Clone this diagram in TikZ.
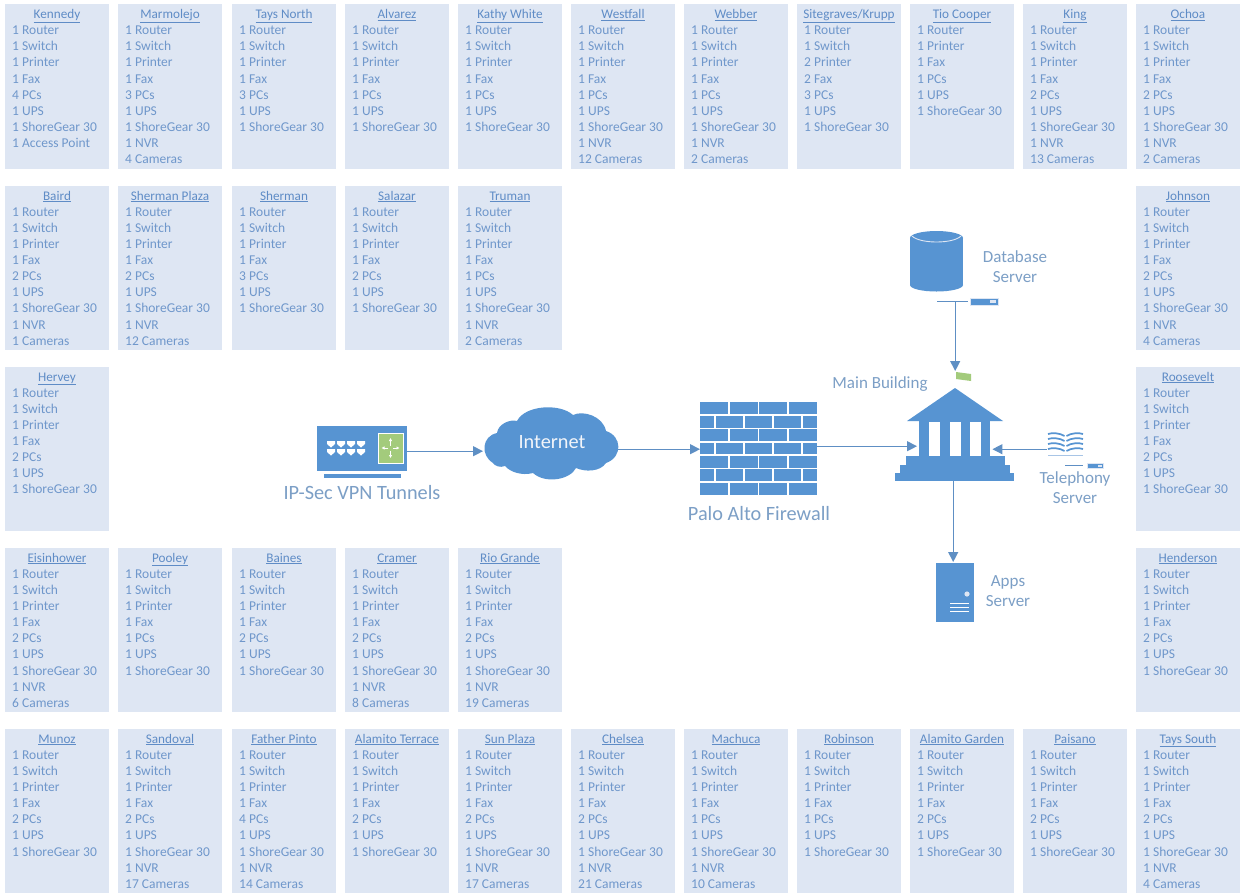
\documentclass[tikz,border=0pt]{standalone}
\usepackage{fontspec}
\setmainfont{Carlito}
\usetikzlibrary{arrows.meta,calc}
\definecolor{boxfill}{HTML}{DEE6F3}
\definecolor{sitetext}{HTML}{6F97CB}
\definecolor{titletext}{HTML}{5F8CC6}
\definecolor{iconblue}{HTML}{5794D2}
\definecolor{labelblue}{HTML}{7C9FC6}
\definecolor{linkblue}{HTML}{5E8FC4}
\definecolor{leaf}{HTML}{A3CB7C}
\tikzset{
  sitebox/.style={fill=boxfill,draw=none,anchor=north west,minimum width=104pt,minimum height=164.5pt,inner sep=0pt},
  sitetitle/.style={text=titletext,inner sep=0pt,anchor=base,font=\fontsize{13.2}{16}\selectfont},
  sitelines/.style={text=sitetext,anchor=north west,inner sep=0pt,align=left,font=\fontsize{13.5}{16.15}\selectfont},
  iconanchor/.style={draw=none,fill=none,inner sep=0pt,anchor=north west},
  biglabel/.style={text=labelblue,inner sep=0pt,align=center,font=\fontsize{20.3}{22}\selectfont},
  midlabel/.style={text=labelblue,inner sep=0pt,align=center,font=\fontsize{17}{20}\selectfont},
  link/.style={draw=linkblue,line width=1.2pt,-{Triangle[length=10pt,width=10pt,fill=linkblue]}},
  plainline/.style={draw=linkblue,line width=1pt},
  icon/.style={fill=iconblue,draw=none},
  whitebar/.style={draw=white,line width=1.8pt},
  bookline/.style={draw=iconblue,line width=1.7pt}
}
\newcommand\stdlines[1]{1 Router\\1 Switch\\1 Printer\\1 Fax\\#1\\1 UPS\\1 ShoreGear 30}
\newcommand\camlines[2]{\stdlines{#1}\\1 NVR\\#2 Cameras}
% id, left, top, title, lines
\newcommand\site[5]{%
  \node[sitebox] (#1) at (#2,#3) {};
  \node[sitetitle] (#1T) at ($(#2,#3)+(52,14.5)$) {\underline{#4}};
  \node[sitelines] (#1L) at ($(#2,#3)+(7,21.7)$) {#5};
}
\begin{document}
\begin{tikzpicture}[x=1pt,y=-1pt]
\useasboundingbox (0,0) rectangle (1244,892);
\fill[white] (0,0) rectangle (1244,892);
% row 1
\site{a1}{5}{4}{Kennedy}{\stdlines{4 PCs}\\1 Access Point}
\site{a2}{118}{4}{Marmolejo}{\camlines{3 PCs}{4}}
\site{a3}{232}{4}{Tays North}{\stdlines{3 PCs}}
\site{a4}{345}{4}{Alvarez}{\stdlines{1 PCs}}
\site{a5}{458}{4}{Kathy White}{\stdlines{1 PCs}}
\site{a6}{571}{4}{Westfall}{\camlines{1 PCs}{12}}
\site{a7}{684}{4}{Webber}{\camlines{1 PCs}{2}}
\site{a8}{797}{4}{Sitegraves/Krupp}{1 Router\\1 Switch\\2 Printer\\2 Fax\\3 PCs\\1 UPS\\1 ShoreGear 30}
\site{a9}{910}{4}{Tio Cooper}{1 Router\\1 Printer\\1 Fax\\1 PCs\\1 UPS\\1 ShoreGear 30}
\site{a10}{1023}{4}{King}{\camlines{2 PCs}{13}}
\site{a11}{1136}{4}{Ochoa}{\camlines{2 PCs}{2}}
% row 2
\site{b1}{5}{185.5}{Baird}{\camlines{2 PCs}{1}}
\site{b2}{118}{185.5}{Sherman Plaza}{\camlines{2 PCs}{12}}
\site{b3}{232}{185.5}{Sherman}{\stdlines{3 PCs}}
\site{b4}{345}{185.5}{Salazar}{\stdlines{2 PCs}}
\site{b5}{458}{185.5}{Truman}{\camlines{1 PCs}{2}}
\site{b11}{1136}{185.5}{Johnson}{\camlines{2 PCs}{4}}
% row 3
\site{c1}{5}{366.5}{Hervey}{\stdlines{2 PCs}}
\site{c11}{1136}{366.5}{Roosevelt}{\stdlines{2 PCs}}
% row 4
\site{d1}{5}{547.5}{Eisinhower}{\camlines{2 PCs}{6}}
\site{d2}{118}{547.5}{Pooley}{\stdlines{1 PCs}}
\site{d3}{232}{547.5}{Baines}{\stdlines{2 PCs}}
\site{d4}{345}{547.5}{Cramer}{\camlines{2 PCs}{8}}
\site{d5}{458}{547.5}{Rio Grande}{\camlines{2 PCs}{19}}
\site{d11}{1136}{547.5}{Henderson}{\stdlines{2 PCs}}
% row 5
\site{e1}{5}{728.5}{Munoz}{\stdlines{2 PCs}}
\site{e2}{118}{728.5}{Sandoval}{\camlines{2 PCs}{17}}
\site{e3}{232}{728.5}{Father Pinto}{\camlines{4 PCs}{14}}
\site{e4}{345}{728.5}{Alamito Terrace}{\stdlines{2 PCs}}
\site{e5}{458}{728.5}{Sun Plaza}{\camlines{2 PCs}{17}}
\site{e6}{571}{728.5}{Chelsea}{\camlines{2 PCs}{21}}
\site{e7}{684}{728.5}{Machuca}{\camlines{1 PCs}{10}}
\site{e8}{797}{728.5}{Robinson}{\stdlines{1 PCs}}
\site{e9}{910}{728.5}{Alamito Garden}{\stdlines{2 PCs}}
\site{e10}{1023}{728.5}{Paisano}{\stdlines{2 PCs}}
\site{e11}{1136}{728.5}{Tays South}{\camlines{2 PCs}{4}}

% VPN device
\fill[icon] (317,426) rectangle (407,471);
\fill[icon] (324,474) rectangle (401,477.5);
\fill[leaf,draw=white,line width=.8pt] (378,433) rectangle (403,463);
\foreach \px in {327,337,347,357}\foreach \py in {441,449}{
  \fill[white] (\px,\py) -- ++(8,0) -- ++(0,3) -- ++(-4,3.5) -- ++(-4,-3.5) -- cycle;}
\foreach \dx/\dy in {0/-10,0/10,-9/0,9/0}{
  \draw[white,line width=.9pt,-{Latex[length=3pt,width=3.5pt]}] ($(390.5,448)+(\dx*.25,\dy*.25)$) -- ($(390.5,448)+(\dx,\dy)$);}
% cloud
\fill[icon] (493,463) .. controls (480,455) and (482,436) .. (497,433)
  .. controls (498,424) and (510,419) .. (517,421)
  .. controls (525,405) and (560,403) .. (573,415)
  .. controls (583,410) and (603,416) .. (606,431)
  .. controls (622,436) and (623,457) .. (606,463)
  .. controls (600,472) and (585,472) .. (576,468)
  .. controls (570,480) and (545,484) .. (533,473)
  .. controls (522,476) and (510,472) .. (505,466)
  .. controls (500,468) and (495,466) .. (493,463) -- cycle;
% firewall
\fill[icon] (700,402) rectangle (817,495);
\foreach \r in {1,...,6}{\draw[whitebar] (700,402+\r*13.29) -- (817,402+\r*13.29);}
\foreach \r in {0,2,4,6}{\foreach \c in {1,2,3}{
  \draw[whitebar] (700+\c*29.25,402+\r*13.29) -- ++(0,13.29);}}
\foreach \r in {1,3,5}{\foreach \c in {0,1,2,3}{
  \draw[whitebar] (714.6+\c*29.25,402+\r*13.29) -- ++(0,13.29);}}
% building
\fill[icon] (955,388) -- (1003,421) -- (907,421) -- cycle;
\fill[icon] (919,421) rectangle (990,456);
\fill[white] (929,421.5) rectangle (940,456);
\fill[white] (949.5,421.5) rectangle (960.5,456);
\fill[white] (970,421.5) rectangle (981,456);
\fill[icon] (906,456) rectangle (1005,465);
\fill[icon] (900,465) rectangle (1010,473);
\fill[icon] (895,473) rectangle (1014,481);
\fill[leaf] (956,372) -- (971,374) -- (971,381) -- (956,379) -- cycle;
% database
\fill[icon] (910,238) rectangle (963,285);
\fill[icon] (936.5,238) ellipse[x radius=26.5,y radius=7];
\fill[icon] (936.5,285) ellipse[x radius=26.5,y radius=6.5];
\draw[boxfill,line width=.9pt] (912,236) .. controls (920,244) and (953,244) .. (961,236);
\draw[plainline] (937,301) -- (968,301);
\fill[icon,draw=boxfill,line width=.5pt] (970,298) rectangle (998,305);
\fill[boxfill] (990,300) rectangle (996,303);
% book
\foreach \q in {0,5,10,15}{
  \draw[bookline] (1064.5,436+\q) .. controls (1060,433+\q) and (1052,432.5+\q) .. (1048,434+\q);
  \draw[bookline] (1066.5,436+\q) .. controls (1071,433+\q) and (1079,432.5+\q) .. (1083,434+\q);}
\draw[bookline,line width=.8pt,boxfill!60!iconblue] (1048,455) -- (1083,455);
\draw[plainline] (1065,465.5) -- (1083,465.5);
\fill[icon,draw=boxfill,line width=.4pt] (1087,463) rectangle (1103,468);
\fill[boxfill] (1098,464.5) rectangle (1102,466.5);
% apps server
\fill[icon] (936,563) rectangle (973.5,622);
\fill[boxfill] (967,594) circle[radius=2.6];
\foreach \q in {603,607,611}{\draw[white,line width=1pt] (950,\q) -- (969,\q);}

% anchors for the connectors
\node[iconanchor,minimum width=90pt,minimum height=50pt] (vpn) at (317,426) {};
\node[iconanchor,minimum width=133pt,minimum height=94pt] (cloud) at (485,404) {};
\node[iconanchor,minimum width=117pt,minimum height=94pt] (firewall) at (700,402) {};
\node[iconanchor,minimum width=75pt,minimum height=92pt] (building) at (917,389) {};
\node[iconanchor,minimum width=0pt,minimum height=0pt] (dbline) at (955,301) {};
\node[iconanchor,minimum width=0pt,minimum height=0pt] (flag) at (955,371) {};
\node[iconanchor,minimum width=37pt,minimum height=28pt] (book) at (1047,435) {};
\node[iconanchor,minimum width=0pt,minimum height=0pt] (buildbase) at (953,481) {};
\node[iconanchor,minimum width=0pt,minimum height=0pt] (appstop) at (953,562) {};
% connectors
\draw[link] (vpn.east) -- ([xshift=-2pt]cloud.west);
\draw[link] ([yshift=2pt]cloud.east) -- (firewall.west);
\draw[link] ([yshift=3pt]firewall.east) -- ([yshift=-11pt]building.west);
\draw[link] (dbline) -- (flag);
\draw[link] (book.west) -- ([yshift=-14pt]building.east);
\draw[link] (buildbase) -- (appstop);

% labels
\node[biglabel,text=boxfill!40!white] (inetlabel) at (552,442) {Internet};
\node[biglabel] (vpnlabel) at (362,493) {IP-Sec VPN Tunnels};
\node[biglabel] (fwlabel) at (759,514) {Palo Alto Firewall};
\node[midlabel] (mainlabel) at (880,384) {Main Building};
\node[midlabel] (dblabel) at (1015,267) {Database\\Server};
\node[midlabel] (tellabel) at (1075,488) {Telephony\\Server};
\node[midlabel] (appslabel) at (1008,591) {Apps\\Server};
\end{tikzpicture}
\end{document}
